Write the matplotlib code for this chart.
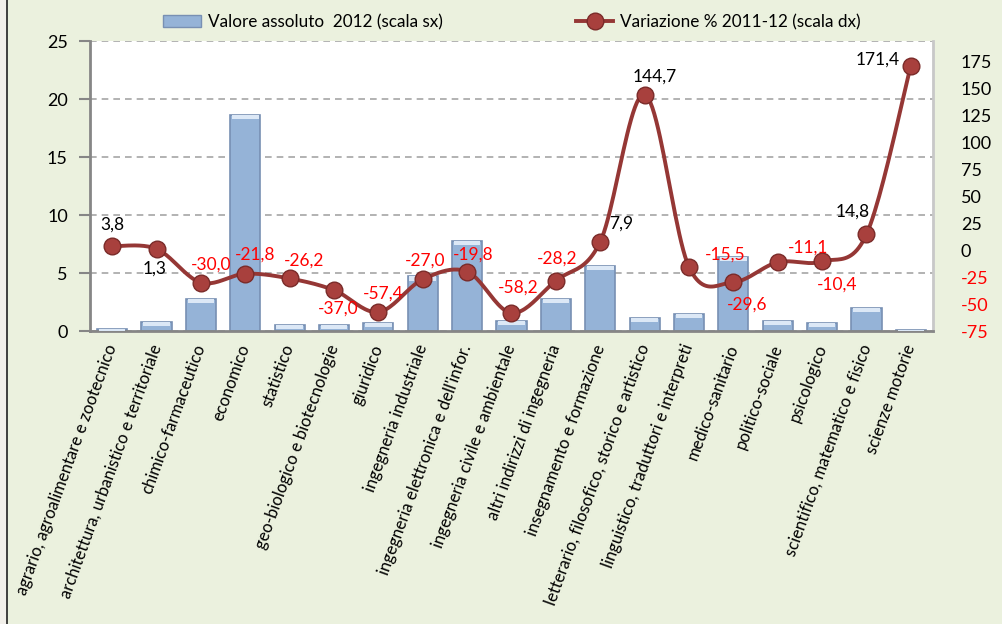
import numpy as np
import matplotlib
matplotlib.use('Agg')
import matplotlib.pyplot as plt
from matplotlib.patches import Patch, Rectangle
from matplotlib.lines import Line2D

plt.rcParams['font.family'] = ['Lato', 'DejaVu Sans']

# Dati
gruppi = ['agrario, agroalimentare e zootecnico', 'architettura, urbanistico e territoriale',
          'chimico-farmaceutico', 'economico', 'statistico', 'geo-biologico e biotecnologie',
          'giuridico', 'ingegneria industriale', "ingegneria elettronica e dell'infor.",
          'ingegneria civile e ambientale', 'altri indirizzi di ingegneria',
          'insegnamento e formazione', 'letterario, filosofico, storico e artistico',
          'linguistico, traduttori e interpreti', 'medico-sanitario', 'politico-sociale',
          'psicologico', 'scientifico, matematico e fisico', 'scienze motorie']
valore_2012 = [0.2, 0.8, 2.8, 18.6, 0.5, 0.5, 0.7, 4.7, 7.8, 0.9, 2.8, 5.6, 1.1, 1.5, 6.4, 0.9, 0.7, 2.0, 0.1]
variazione = [3.8, 1.3, -30.0, -21.8, -26.2, -37.0, -57.4, -27.0, -19.8, -58.2, -28.2, 7.9,
              144.7, -15.5, -29.6, -11.1, -10.4, 14.8, 171.4]
tick_sx = [0, 5, 10, 15, 20, 25]
tick_dx = [-75, -50, -25, 0, 25, 50, 75, 100, 125, 150, 175]

# spostamento delle etichette (pixel) rispetto al punto
off_etichette = [(0, 22), (-2, -20), (10, 18), (10, 19), (14, 18), (4, -19), (5, 18), (2, 19),
                 (6, 17), (7, 25), (1, 22), (21, 18), (10, 18), (36, 12), (14, -22), (30, 15),
                 (15, -23), (-14, 23), (-33, 6)]


def curva_liscia(x, y, n=24):
    # curva tipo "linea smussata" di Excel (Catmull-Rom / Bezier)
    x = np.asarray(x, float)
    y = np.asarray(y, float)
    px = np.concatenate(([x[0]], x, [x[-1]]))
    py = np.concatenate(([y[0]], y, [y[-1]]))
    t = np.linspace(0, 1, n)
    xs, ys = [], []
    for i in range(len(x) - 1):
        x0, x1, x2, x3 = px[i:i + 4]
        y0, y1, y2, y3 = py[i:i + 4]
        cx1, cy1 = x1 + (x2 - x0) / 6, y1 + (y2 - y0) / 6
        cx2, cy2 = x2 - (x3 - x1) / 6, y2 - (y3 - y1) / 6
        a = (1 - t) ** 3
        b = 3 * (1 - t) ** 2 * t
        c = 3 * (1 - t) * t ** 2
        d = t ** 3
        xs.append(a * x1 + b * cx1 + c * cx2 + d * x2)
        ys.append(a * y1 + b * cy1 + c * cy2 + d * y2)
    return np.concatenate(xs), np.concatenate(ys)


W, H = 1003, 624
fig = plt.figure(figsize=(W / 100, H / 100), dpi=100)
fig.patch.set_facecolor('#EBF1DE')

# bordo sinistro
fig.patches.append(Rectangle((0, 0), 7 / W, 1, transform=fig.transFigure, facecolor='#F2F0EA',
                             edgecolor='none', zorder=0))
fig.lines.append(Line2D([7.5 / W, 7.5 / W], [0, 1], transform=fig.transFigure, color='#222222', lw=1.2))

ax = fig.add_axes([90 / W, 1 - 331 / H, (933 - 90) / W, (331 - 41) / H])
ax.set_facecolor('white')
x = np.arange(len(gruppi))

# barre
ax.bar(x, valore_2012, width=0.68, color='#95B3D7', edgecolor='#7890B3', linewidth=1.2, zorder=2)
cap = np.minimum(np.array(valore_2012), 0.35)
ax.bar(x, cap, width=0.6, bottom=np.array(valore_2012) - cap, color='#DCE8F6', edgecolor='none', zorder=3)
ax.set_xlim(-0.5, len(gruppi) - 0.5)
ax.set_ylim(0, 25)
ax.set_yticks(tick_sx)
ax.yaxis.grid(True, linestyle=(0, (4, 3)), color='#A6A6A6', linewidth=1.2)
ax.set_axisbelow(True)
ax.tick_params(axis='y', direction='out', length=8, width=1.5, color='#868686', labelsize=13, pad=8)
ax.tick_params(axis='x', length=0, pad=10)
ax.set_xticks(x)
ax.set_xticklabels(gruppi, rotation=70, ha='right', va='center', rotation_mode='anchor', fontsize=12)
ax.spines['top'].set_visible(False)
ax.spines['left'].set_color('#868686')
ax.spines['left'].set_linewidth(2)
ax.spines['bottom'].set_color('#868686')
ax.spines['bottom'].set_linewidth(2)
ax.spines['right'].set_color('#C8C8C8')
ax.spines['right'].set_linewidth(2)

# linea variazione
ax2 = ax.twinx()
ax2.set_ylim(-75, 194.5)
xs, ys = curva_liscia(x, variazione)
ax2.plot(xs, ys, color='#953735', lw=2.8, zorder=4)
ax2.plot(x, variazione, linestyle='none', marker='o', markersize=12, markerfacecolor='#A8403D',
         markeredgecolor='#7A2B29', markeredgewidth=1, zorder=5)
ax2.set_yticks(tick_dx)
ax2.set_yticklabels([str(v) for v in tick_dx])
ax2.tick_params(axis='y', length=0, labelsize=13, pad=20)
for lab, v in zip(ax2.get_yticklabels(), tick_dx):
    lab.set_color('red' if v < 0 else 'black')
for s in ['top', 'left', 'bottom', 'right']:
    ax2.spines[s].set_visible(False)

for xi, v, off in zip(x, variazione, off_etichette):
    ax2.annotate(('%.1f' % v).replace('.', ','), (xi, v), xytext=off, textcoords='offset pixels',
                 ha='center', va='center', fontsize=12.5, color='red' if v < 0 else 'black', zorder=6)

# legenda
h1 = Patch(facecolor='#95B3D7', edgecolor='#7890B3')
h2 = Line2D([], [], color='#953735', lw=2.8, marker='o', markersize=12,
            markerfacecolor='#A8403D', markeredgecolor='#7A2B29')
fig.legend([h1, h2], ['Valore assoluto  2012 (scala sx)', 'Variazione % 2011-12 (scala dx)'],
           loc='center', bbox_to_anchor=(512 / W, 1 - 22 / H), ncol=2, frameon=False,
           fontsize=12.3, columnspacing=7.8, handlelength=2.2, handletextpad=0.4)

fig.savefig('out.png', dpi=100, facecolor=fig.get_facecolor())
